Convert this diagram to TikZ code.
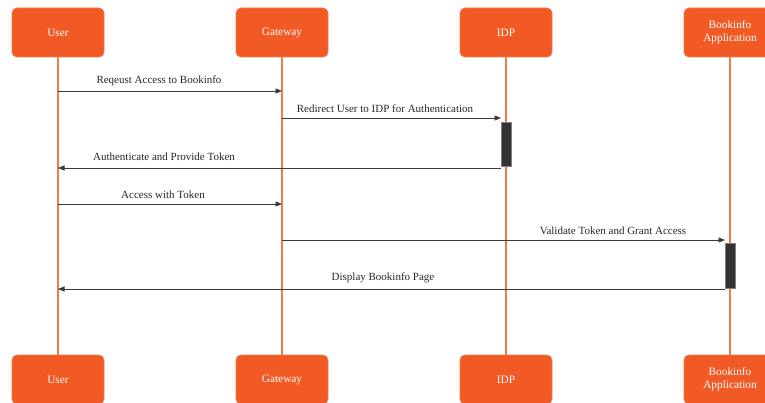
\documentclass[tikz,border=0pt]{standalone}
\usepackage{fontspec}
\setmainfont{Liberation Serif}
\usetikzlibrary{arrows.meta}
\definecolor{boxorange}{HTML}{F15A24}
\definecolor{boxedge}{HTML}{F47A50}
\definecolor{lifeorange}{HTML}{F6784E}
\definecolor{msgcol}{HTML}{3A3A3A}
\definecolor{actfill}{HTML}{333333}
\begin{document}
\begin{tikzpicture}[x=1pt,y=-1pt,
  actor/.style={draw=boxedge,line width=0.8pt,fill=boxorange,rounded corners=5pt,
    minimum width=92pt,minimum height=49pt,text=white,font=\fontsize{11.3}{13}\selectfont,
    align=center,inner sep=0pt},
  lifeline/.style={draw=lifeorange,line width=1.2pt},
  activation/.style={draw=gray,line width=0.6pt,fill=actfill,minimum width=10pt,inner sep=0pt},
  msg/.style={draw=msgcol,line width=0.8pt,-{Triangle[length=6.5pt,width=5pt]}},
  msglabel/.style={font=\fontsize{11}{12.5}\selectfont,text=black!85,inner sep=0pt}]
\useasboundingbox (0,0) rectangle (765,403);
% top actors
\node[actor] (userT) at (58,32.5) {User};
\node[actor] (gwT) at (282,32.5) {Gateway};
\node[actor] (idpT) at (506,32.5) {IDP};
\node[actor] (appT) at (730,32.5) {Bookinfo\\Application};
% bottom actors
\node[actor] (userB) at (58,379.5) {User};
\node[actor] (gwB) at (282,379.5) {Gateway};
\node[actor] (idpB) at (506,379.5) {IDP};
\node[actor] (appB) at (730,379.5) {Bookinfo\\Application};
% lifelines
\draw[lifeline] (userT.south) -- (userB.north);
\draw[lifeline] (gwT.south) -- (gwB.north);
\draw[lifeline] (idpT.south) -- (idpB.north);
\draw[lifeline] (appT.south) -- (appB.north);
% activations
\node[activation,minimum height=44pt] (actIdp) at (506,144) {};
\node[activation,minimum height=45pt] (actApp) at (730,265.5) {};
% message end points
\coordinate (m1s) at (58,91);  \coordinate (m1e) at (282,91);
\coordinate (m2s) at (282,118); \coordinate (m2e) at (501,118);
\coordinate (m3s) at (501,168); \coordinate (m3e) at (58,168);
\coordinate (m4s) at (58,204); \coordinate (m4e) at (282,204);
\coordinate (m5s) at (282,240); \coordinate (m5e) at (725,240);
\coordinate (m6s) at (725,289); \coordinate (m6e) at (58,289);
% messages
\draw[msg] (m1s) -- (m1e);
\draw[msg] (m2s) -- (m2e);
\draw[msg] (m3s) -- (m3e);
\draw[msg] (m4s) -- (m4e);
\draw[msg] (m5s) -- (m5e);
\draw[msg] (m6s) -- (m6e);
% labels
\node[msglabel] (l1) at (159,81) {Reqeust Access to Bookinfo};
\node[msglabel] (l2) at (385,109) {Redirect User to IDP for Authentication};
\node[msglabel] (l3) at (164,157) {Authenticate and Provide Token};
\node[msglabel] (l4) at (163,195) {Access with Token};
\node[msglabel] (l5) at (613,231) {Validate Token and Grant Access};
\node[msglabel] (l6) at (383,278) {Display Bookinfo Page};
\end{tikzpicture}
\end{document}
